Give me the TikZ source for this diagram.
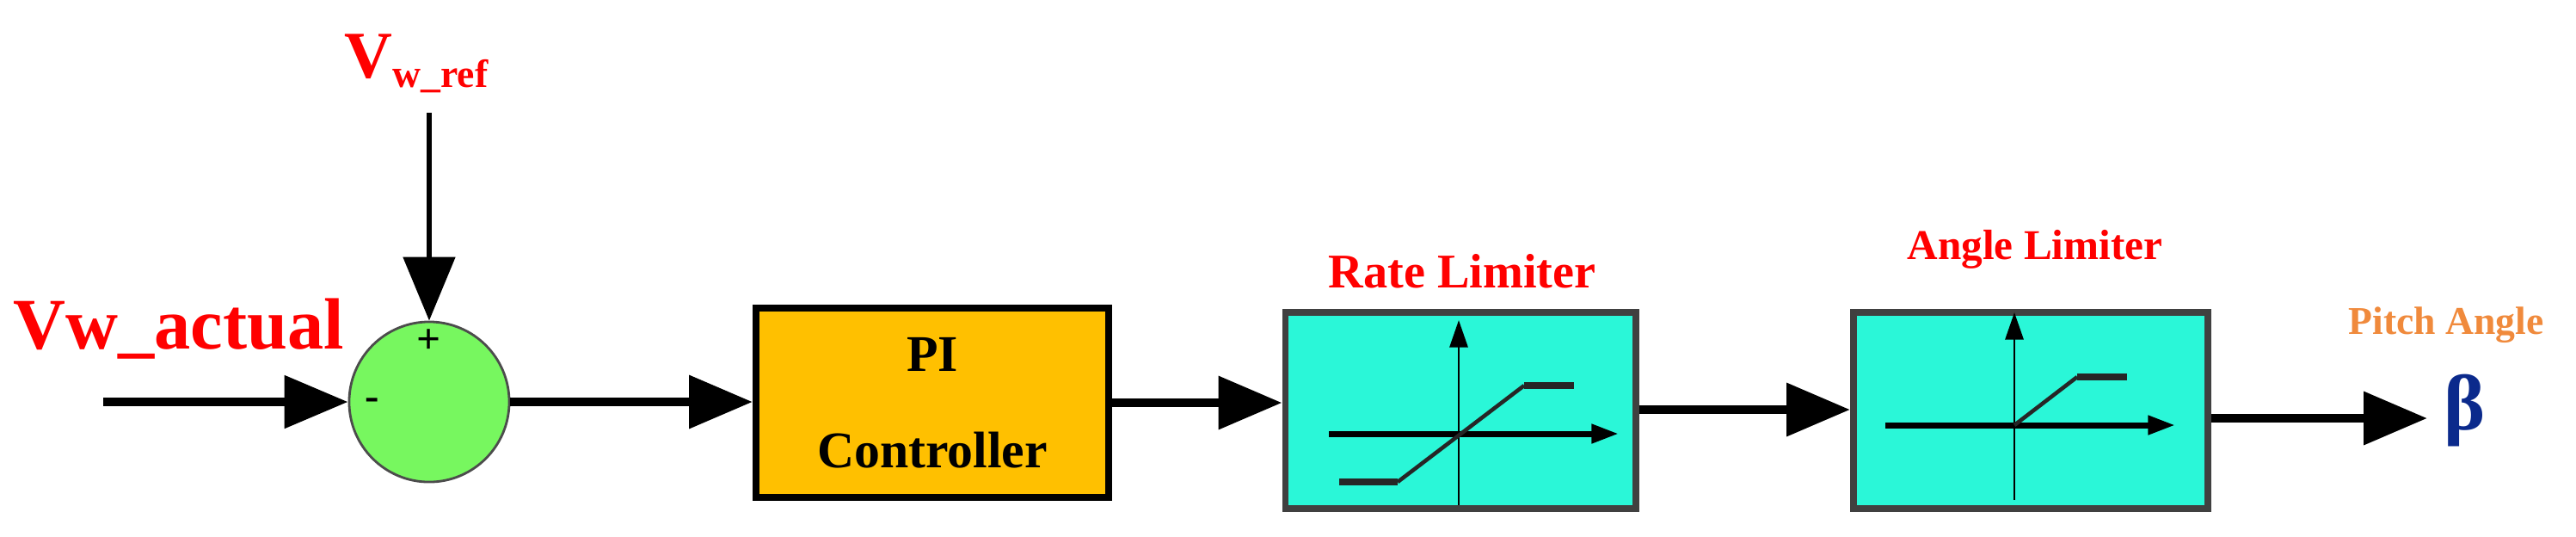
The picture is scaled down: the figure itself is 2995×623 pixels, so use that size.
\documentclass[tikz,border=0pt]{standalone}
\usepackage{fontspec}
\setmainfont{Liberation Serif}
\usetikzlibrary{arrows.meta}
\definecolor{pigreen}{HTML}{77F75F}
\definecolor{piorange}{HTML}{FFC000}
\definecolor{picyan}{HTML}{2AF7D8}
\definecolor{piblue}{HTML}{0B2A8C}
\definecolor{pitchor}{HTML}{F08A3C}
\begin{document}
\begin{tikzpicture}[x=0.01cm,y=-0.01cm,
  sig/.style={line width=3pt,-{Triangle[length=21pt,width=17pt]}},
  blk/.style={draw,line width=2.2pt,minimum width=4.1cm,minimum height=2.2cm,inner sep=0pt},
  lbl/.style={text=red,font=\bfseries\fontsize{16}{18}\selectfont,inner sep=0pt},
  ax/.style={line width=0.8pt,-{Triangle[length=9pt,width=6pt]}},
  crv/.style={line width=1.3pt,black!85}]
\useasboundingbox (0,0) rectangle (2995,623);
% nodes
\node[draw=black!70,fill=pigreen,circle,minimum size=1.86cm,inner sep=0pt,line width=0.8pt] (sum) at (499,467) {};
\node[blk,fill=piorange,align=center,font=\bfseries\fontsize{17}{32}\selectfont] (pi) at (1084,468) {PI\\Controller};
\node[blk,fill=picyan,draw=black!75,minimum width=4.07cm,minimum height=2.28cm] (rate) at (1698,477) {};
\node[blk,fill=picyan,draw=black!75,minimum width=4.12cm,minimum height=2.28cm] (ang) at (2361,477) {};
\coordinate (in) at (120,467);
\coordinate (reftop) at (499,131);
\coordinate (out) at (2822,486);
% labels
\node[lbl,font=\bfseries\fontsize{24}{26}\selectfont,anchor=base west] (vwa) at (15,405) {Vw\_actual};
\node[lbl,font=\bfseries\fontsize{22}{24}\selectfont,anchor=base west] (vwr) at (400,90) {V\raisebox{-0.15em}{\fontsize{13}{14}\selectfont w\_ref}};
\node[lbl] (rl) at (1700,315) {Rate Limiter};
\node[lbl,font=\bfseries\fontsize{14}{16}\selectfont] (al) at (2366,290) {Angle Limiter};
\node[text=pitchor,font=\bfseries\fontsize{13}{15}\selectfont,inner sep=0pt] (pa) at (2844,378) {Pitch Angle};
\node[text=piblue,font=\bfseries\fontsize{26}{28}\selectfont,inner sep=0pt] (beta) at (2866,477) {β};
\node[font=\bfseries\fontsize{14}{14}\selectfont,inner sep=0pt] at (499,397) {+};
\node[font=\bfseries\fontsize{14}{14}\selectfont,inner sep=0pt] at (433,470) {-};
% connectors
\draw[sig,line width=2.6pt] (in) -- (sum.west);
\draw[sig,line width=1.6pt] (reftop) -- (sum.north);
\draw[sig] (sum.east) -- (sum.east -| pi.west);
\draw[sig] (pi.east) -- (pi.east -| rate.west);
\draw[sig] (rate.east |- 0,476) -- (ang.west |- 0,476);
\draw[sig] (ang.east |- out) -- (out);
% rate limiter graph
\draw[ax] (1696,587) -- (1696,372);
\draw[ax,line width=2pt] (1545,504) -- (1882,504);
\draw[crv,line width=2.5pt] (1557,560) -- (1625,560);
\draw[crv] (1625,560) -- (1772,448);
\draw[crv,line width=2.5pt] (1772,448) -- (1830,448);
% angle limiter graph
\draw[ax] (2342,581) -- (2342,363);
\draw[ax,line width=2pt] (2192,494) -- (2529,494);
\draw[crv] (2342,494) -- (2415,438);
\draw[crv,line width=2.5pt] (2415,438) -- (2473,438);
\end{tikzpicture}
\end{document}
